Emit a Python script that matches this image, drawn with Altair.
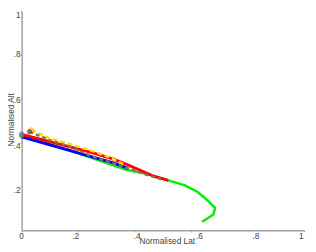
import altair as alt
import pandas as pd

# series (Normalised Lat, Normalised Alt)
red_x = [0.0, 0.246, 0.325, 0.382, 0.462, 0.519]
red_y = [0.438, 0.356, 0.325, 0.295, 0.250, 0.228]

blue_x = [0.0, 0.234, 0.325, 0.377]
blue_y = [0.427, 0.341, 0.308, 0.283]

green_x = [0.0, 0.18, 0.36, 0.439, 0.519, 0.576, 0.622, 0.656, 0.685, 0.679, 0.639]
green_y = [0.433, 0.36, 0.28, 0.258, 0.228, 0.206, 0.176, 0.139, 0.102, 0.072, 0.039]

yellow_x = [0.034, 0.097, 0.177, 0.246, 0.314, 0.370]
yellow_y = [0.458, 0.421, 0.391, 0.364, 0.332, 0.295]

brown_x = [0.028, 0.097, 0.177, 0.246, 0.314, 0.383, 0.451, 0.508]
brown_y = [0.450, 0.413, 0.379, 0.339, 0.310, 0.280, 0.250, 0.228]

# start markers
marker_x = [0.0, 0.0, 0.034, 0.028]
marker_y = [0.431, 0.439, 0.458, 0.450]
marker_fill = ["#22cc22", "#9966cc", "#ffcc66", "#6b4a2e"]
marker_stroke = ["#22aa22", "#8855bb", "#ff9933", "#5a3d25"]

x_ticks = [0, 0.2, 0.4, 0.6, 0.8, 1]
y_ticks = [0.2, 0.4, 0.6, 0.8, 1]
label_expr = "datum.value == 0 ? '0' : datum.value == 1 ? '1' : replace(format(datum.value, '.1f'), '0.', '.')"

xs = alt.Scale(domain=[0, 1], nice=False, zero=False)
ys = alt.Scale(domain=[0, 1], nice=False, zero=False)

x_off = {
    "condition": [
        {"test": "datum.value < 0.3", "value": -3},
        {"test": "datum.value > 0.3 && datum.value < 0.5", "value": 2},
        {"test": "datum.value > 0.5 && datum.value < 0.9", "value": 8},
    ],
    "value": -1,
}
y_off = {
    "condition": [
        {"test": "datum.value > 0.9", "value": 4},
        {"test": "datum.value > 0.7", "value": -1},
        {"test": "datum.value > 0.5", "value": 1},
    ],
    "value": 3,
}

xax = alt.Axis(values=x_ticks, labelExpr=label_expr, title="Normalised Lat",
               titleY=7, titleBaseline="top", titleX=149, grid=False,
               labelOffset=x_off)
yax = alt.Axis(values=y_ticks, labelExpr=label_expr, title="Normalised Alt",
               labelOffset=y_off, grid=False, titleX=-8, titleY=111,
               titleBaseline="alphabetic")


def line(xv, yv, color, width, dash=None):
    df = pd.DataFrame({"x": xv, "y": yv, "o": list(range(len(xv)))})
    kw = dict(color=color, strokeWidth=width, strokeCap="butt", strokeJoin="round")
    if dash:
        kw["strokeDash"] = dash
    return alt.Chart(df).mark_line(**kw).encode(
        x=alt.X("x:Q", scale=xs, axis=xax),
        y=alt.Y("y:Q", scale=ys, axis=yax),
        order="o:Q",
    )


layers = [
    line(green_x, green_y, "#00ee00", 2.5),
    line(blue_x, blue_y, "#0000ff", 3),
    line(red_x, red_y, "#ff0000", 3),
    line(yellow_x, yellow_y, "#ffdd00", 2.5, [5, 3]),
    line(brown_x, brown_y, "#8c7050", 2.5, [4, 3]),
]

mdf = pd.DataFrame({"x": marker_x, "y": marker_y, "f": marker_fill, "s": marker_stroke})
markers = alt.Chart(mdf).mark_point(filled=True, size=22, strokeWidth=1).encode(
    x=alt.X("x:Q", scale=xs, axis=xax),
    y=alt.Y("y:Q", scale=ys, axis=yax),
    fill=alt.Fill("f:N", scale=None),
    stroke=alt.Stroke("s:N", scale=None),
)

chart = alt.layer(*layers, markers).properties(
    width=290, height=225,
    autosize=alt.AutoSizeParams(type="none"),
    padding={"left": 14, "top": 0, "right": 4, "bottom": 19},
).configure_view(stroke=None).configure_axis(
    domainColor="#a0a0a0", domainWidth=1.5, tickColor="#a0a0a0", tickSize=1.5,
    labelPadding=0, labelFont="Liberation Sans", labelFontSize=8.5, labelColor="#444444",
    titleFont="Liberation Sans", titleFontSize=8.5, titleFontWeight="normal", titleColor="#444444",
)

chart.save("out.html", embed_options={"renderer": "svg", "actions": False})
